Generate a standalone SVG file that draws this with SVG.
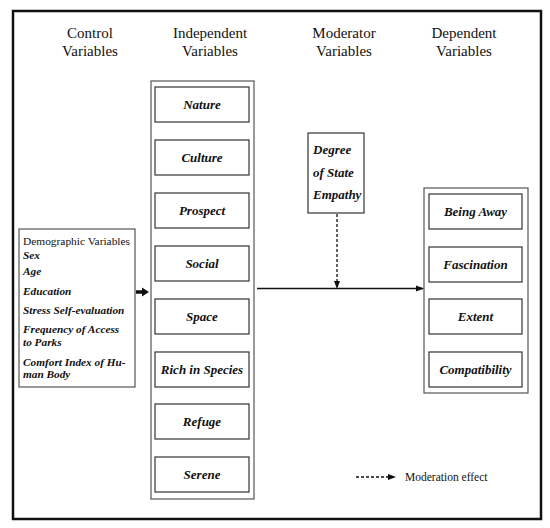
<svg xmlns="http://www.w3.org/2000/svg" width="550" height="528" viewBox="0 0 550 528">
<defs>
<style>
.hdr{font-family:"Liberation Serif","Times New Roman",serif;font-size:15px;fill:#111;text-anchor:middle}
.lbl{font-family:"Liberation Serif","Times New Roman",serif;font-size:13px;font-weight:bold;font-style:italic;fill:#111;text-anchor:middle}
.dem{font-family:"Liberation Serif","Times New Roman",serif;font-size:11.3px;font-weight:bold;font-style:italic;fill:#111}
.mod{font-family:"Liberation Serif","Times New Roman",serif;font-size:13px;font-weight:bold;font-style:italic;fill:#111}
.box{fill:#fff;stroke:#333;stroke-width:1.2}
.outer{fill:#fff;stroke:#555;stroke-width:1.2}
.conn{stroke:#111;stroke-width:1.3;fill:none}
</style>
<marker id="ah" markerWidth="8" markerHeight="8" refX="7" refY="4" orient="auto" markerUnits="userSpaceOnUse">
<path d="M0,1 L8,4 L0,7 Z" fill="#111"/>
</marker>
</defs>
<rect width="550" height="528" fill="#fff"/>
<rect x="13" y="11" width="528" height="508" fill="none" stroke="#111" stroke-width="2.5"/>
<g id="headers">
<text class="hdr" x="90" y="38">Control</text><text class="hdr" x="90" y="56">Variables</text>
<text class="hdr" x="210" y="38">Independent</text><text class="hdr" x="210" y="56">Variables</text>
<text class="hdr" x="344" y="38">Moderator</text><text class="hdr" x="344" y="56">Variables</text>
<text class="hdr" x="464" y="38">Dependent</text><text class="hdr" x="464" y="56">Variables</text>
</g>
<g id="independent">
<rect class="outer" x="151" y="81" width="103" height="418"/>
<g id="nature"><rect class="box" x="155" y="87" width="94" height="35"/><text class="lbl" x="202" y="109">Nature</text></g>
<g id="culture"><rect class="box" x="155" y="140" width="94" height="35"/><text class="lbl" x="202" y="162">Culture</text></g>
<g id="prospect"><rect class="box" x="155" y="193" width="94" height="35"/><text class="lbl" x="202" y="215">Prospect</text></g>
<g id="social"><rect class="box" x="155" y="246" width="94" height="35"/><text class="lbl" x="202" y="268">Social</text></g>
<g id="space"><rect class="box" x="155" y="299" width="94" height="35"/><text class="lbl" x="202" y="321">Space</text></g>
<g id="rich"><rect class="box" x="155" y="352" width="94" height="35"/><text class="lbl" x="202" y="374">Rich in Species</text></g>
<g id="refuge"><rect class="box" x="155" y="404" width="94" height="35"/><text class="lbl" x="202" y="426">Refuge</text></g>
<g id="serene"><rect class="box" x="155" y="457" width="94" height="35"/><text class="lbl" x="202" y="479">Serene</text></g>
</g>
<g id="control">
<rect class="outer" x="19" y="229" width="116" height="158"/>
<text x="23" y="245" style="font-family:'Liberation Serif','Times New Roman',serif;font-size:11.4px;fill:#111">Demographic Variables</text>
<text class="dem" x="23" y="259">Sex</text>
<text class="dem" x="23" y="275">Age</text>
<text class="dem" x="23" y="295">Education</text>
<text class="dem" x="23" y="314">Stress Self-evaluation</text>
<text class="dem" x="23" y="333">Frequency of  Access</text>
<text class="dem" x="23" y="346">to Parks</text>
<text class="dem" x="23" y="366">Comfort Index of Hu-</text>
<text class="dem" x="23" y="378">man Body</text>
</g>
<g id="moderator">
<rect class="box" x="308" y="133" width="56" height="80"/>
<text class="mod" x="313" y="154">Degree</text>
<text class="mod" x="313" y="177">of State</text>
<text class="mod" x="313" y="199">Empathy</text>
</g>
<g id="dependent">
<rect class="outer" x="424" y="188" width="104" height="205"/>
<g id="away"><rect class="box" x="429" y="194" width="93" height="35"/><text class="lbl" x="475.5" y="216">Being Away</text></g>
<g id="fasc"><rect class="box" x="429" y="247" width="93" height="35"/><text class="lbl" x="475.5" y="269">Fascination</text></g>
<g id="extent"><rect class="box" x="429" y="299" width="93" height="35"/><text class="lbl" x="475.5" y="321">Extent</text></g>
<g id="compat"><rect class="box" x="429" y="352" width="93" height="35"/><text class="lbl" x="475.5" y="374">Compatibility</text></g>
</g>
<g id="connectors">
<path d="M136,292 H143" stroke="#111" stroke-width="3.5"/>
<path d="M142,287.5 L149,292 L142,296.5 Z" fill="#111"/>
<line class="conn" x1="257" y1="288.5" x2="423" y2="288.5" marker-end="url(#ah)"/>
<line class="conn" x1="337" y1="214" x2="337" y2="288" stroke-dasharray="3,2" marker-end="url(#ah)"/>
<line class="conn" x1="356" y1="477" x2="395" y2="477" stroke-dasharray="3,2" marker-end="url(#ah)"/>
</g>
<text x="405" y="481" style="font-family:'Liberation Serif','Times New Roman',serif;font-size:11.5px;fill:#111">Moderation effect</text>
</svg>
